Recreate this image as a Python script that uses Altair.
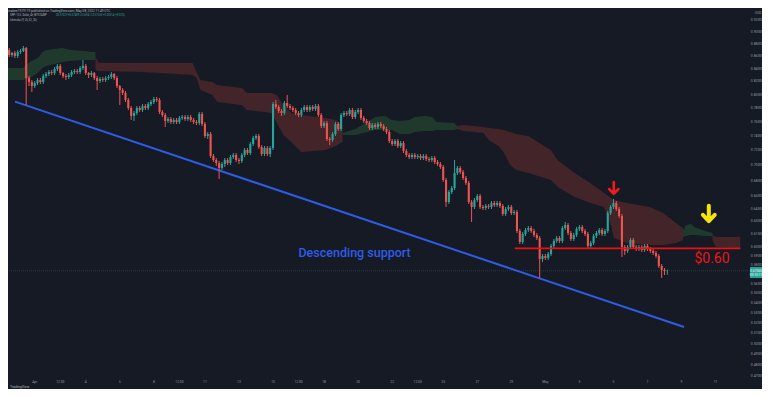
import altair as alt
import pandas as pd

# ---------------- data (XRP / USD, 4h candles, Bitstamp) ----------------
# time is given in hours from 1 Apr 2022 00:00 UTC; first candle opens 30 Mar 12:00
first_hour = -36
step_hours = 4
first_open = 0.8701

closes = [
    .8620, .8653, .8604, .8669, .8685, .8734, .8253, .8191, .8130, .8176,
    .8222, .8191, .8284, .8316, .8347, .8332, .8395, .8442, .8332, .8284,
    .8269, .8300, .8347, .8363, .8347, .8411, .8442, .8332, .8300, .8332,
    .8253, .8207, .8238, .8222, .8253, .8269, .8316, .8253, .8130, .8069,
    .8023, .7918, .7799, .7683, .7726, .7799, .7770, .7828, .7799, .7858,
    .7888, .7933, .7918, .7741, .7697, .7611, .7639, .7596, .7625, .7596,
    .7654, .7668, .7639, .7668, .7625, .7596, .7582, .7712, .7567, .7398,
    .7426, .7124, .7070, .7030, .6964, .7017, .7070, .7030, .7110, .7137,
    .7070, .7057, .7137, .7205, .7164, .7287, .7370, .7398, .7246, .7151,
    .7232, .7151, .7232, .7858, .7814, .7755, .7726, .7873, .7828, .7799,
    .7770, .7726, .7697, .7770, .7814, .7770, .7814, .7785, .7828, .7697,
    .7539, .7582, .7356, .7342, .7426, .7567, .7496, .7697, .7726, .7712,
    .7770, .7668, .7741, .7770, .7654, .7611, .7582, .7510, .7553, .7525,
    .7567, .7539, .7496, .7454, .7328, .7287, .7328, .7259, .7301, .7191,
    .7137, .7110, .7137, .7110, .7124, .7097, .7124, .7083, .7070, .7097,
    .7044, .7017, .6978, .6809, .6532, .6656, .6707, .6899, .6964, .6912,
    .6835, .6771, .6532, .6471, .6556, .6606, .6471, .6458, .6483, .6471,
    .6519, .6495, .6519, .6483, .6385, .6446, .6471, .6397, .6410, .6184,
    .6057, .6149, .6196, .6219, .6184, .6137, .6103, .5866, .5899, .5877,
    .5921, .6012, .6069, .6103, .6069, .6219, .6254, .6161, .6091, .6137,
    .6208, .6231, .6184, .6149, .6012, .6046, .6126, .6161, .6196, .6149,
    .6184, .6397, .6471, .6519, .6446, .6361, .6000, .5955, .6000, .6080,
    .6000, .5978, .6000, .5966, .6012, .5978, .5955, .5933, .5899, .5789,
    .5745, .57337, .57365,
]
highs = [
    .8734, .8669, .8685, .8701, .8718, .8767, .8751, .8284, .8222, .8207,
    .8253, .8253, .8316, .8347, .8379, .8379, .8426, .8474, .8474, .8347,
    .8316, .8332, .8379, .8395, .8395, .8442, .8539, .8474, .8347, .8363,
    .8347, .8284, .8269, .8269, .8284, .8300, .8347, .8332, .8284, .8145,
    .8099, .8054, .7948, .7828, .7755, .7828, .7828, .7858, .7858, .7888,
    .7918, .7963, .7963, .7948, .7770, .7726, .7668, .7668, .7654, .7654,
    .7683, .7697, .7697, .7697, .7697, .7654, .7625, .7741, .7741, .7596,
    .7454, .7454, .7151, .7097, .7057, .7044, .7097, .7097, .7137, .7164,
    .7164, .7097, .7164, .7232, .7232, .7314, .7398, .7426, .7426, .7273,
    .7259, .7259, .7259, .7888, .7918, .7843, .7785, .7903, .7993, .7858,
    .7828, .7799, .7755, .7799, .7843, .7843, .7843, .7843, .7858, .7858,
    .7726, .7611, .7611, .7384, .7454, .7596, .7596, .7726, .7755, .7755,
    .7799, .7799, .7770, .7799, .7799, .7683, .7639, .7611, .7582, .7582,
    .7596, .7596, .7567, .7525, .7482, .7356, .7356, .7356, .7328, .7328,
    .7219, .7164, .7164, .7164, .7151, .7151, .7151, .7151, .7110, .7124,
    .7124, .7070, .7044, .7004, .6835, .6681, .6732, .7070, .6991, .6991,
    .6938, .6860, .6796, .6556, .6581, .6631, .6631, .6495, .6507, .6507,
    .6544, .6544, .6544, .6544, .6507, .6471, .6495, .6495, .6434, .6434,
    .6208, .6172, .6219, .6242, .6242, .6208, .6161, .6126, .5921, .5921,
    .5944, .6034, .6091, .6126, .6126, .6242, .6290, .6278, .6184, .6161,
    .6231, .6254, .6254, .6208, .6172, .6069, .6149, .6184, .6219, .6219,
    .6208, .6422, .6495, .6569, .6544, .6471, .6385, .6023, .6023, .6103,
    .6103, .6023, .6023, .6023, .6034, .6034, .6000, .5978, .5955, .5921,
    .5811, .5767, .57489,
]
lows = [
    .8588, .8588, .8571, .8571, .8636, .8669, .7843, .8130, .8039, .8099,
    .8145, .8160, .8160, .8253, .8284, .8300, .8300, .8363, .8300, .8253,
    .8222, .8238, .8269, .8316, .8316, .8316, .8379, .8300, .8253, .8269,
    .8222, .8069, .8176, .8191, .8191, .8222, .8238, .8222, .8099, .7843,
    .7993, .7888, .7770, .7625, .7611, .7697, .7741, .7741, .7770, .7770,
    .7828, .7858, .7888, .7712, .7668, .7525, .7582, .7567, .7567, .7567,
    .7567, .7625, .7611, .7611, .7596, .7567, .7553, .7553, .7539, .7370,
    .7356, .7097, .7044, .6991, .6822, .6938, .6978, .7004, .7004, .7083,
    .7044, .7017, .7030, .7110, .7137, .7137, .7259, .7342, .7219, .7124,
    .7124, .7124, .7110, .7205, .7785, .7726, .7683, .7697, .7799, .7770,
    .7741, .7697, .7668, .7668, .7741, .7741, .7741, .7755, .7755, .7668,
    .7510, .7510, .7328, .7273, .7314, .7398, .7468, .7468, .7668, .7683,
    .7683, .7639, .7639, .7712, .7625, .7582, .7553, .7482, .7482, .7496,
    .7496, .7510, .7468, .7426, .7301, .7259, .7259, .7232, .7232, .7164,
    .7110, .7083, .7083, .7083, .7083, .7070, .7070, .7057, .7044, .7044,
    .7017, .6991, .6951, .6784, .6471, .6507, .6631, .6681, .6873, .6886,
    .6809, .6745, .6507, .6290, .6446, .6532, .6446, .6434, .6434, .6446,
    .6446, .6471, .6471, .6458, .6361, .6361, .6422, .6373, .6373, .6161,
    .6034, .6034, .6126, .6172, .6161, .6114, .6080, .5659, .5833, .5855,
    .5855, .5899, .5989, .6046, .6046, .6046, .6196, .6137, .6069, .6069,
    .6114, .6184, .6161, .6126, .5989, .5989, .6023, .6103, .6137, .6126,
    .6126, .6161, .6373, .6446, .6422, .6338, .5888, .5910, .5933, .5978,
    .5978, .5955, .5955, .5944, .5944, .5955, .5933, .5910, .5877, .5767,
    .5659, .5691, .56941,
]

# Ichimoku cloud outline (hour, upper edge, lower edge), per segment
cloud_seg = [1]*12 + [2]*18 + [3]*14 + [4]*21 + [5]*6 + [6]*3
cloud_trend = (["bull"]*12 + ["bear"]*18 + ["bull"]*14 + ["bear"]*21
               + ["bull"]*6 + ["bear"]*3)
cloud_hour = [
    -41.7, -16.7, -7.0, 4.2, 11.1, 16.7, 27.8, 39.0, 50.1, 69.6, 80.7, 85.6,
    85.6, 90.4, 153.0, 222.6, 228.2, 233.7, 250.4, 257.4, 292.2, 299.1, 333.9,
    340.9, 350.6, 361.7, 375.7, 410.4, 424.3, 434.1,
    434.1, 452.2, 468.9, 480.0, 493.9, 503.7, 514.8, 528.7, 535.7, 549.6,
    560.7, 566.3, 591.3, 595.5,
    595.5, 605.2, 633.0, 640.0, 653.9, 660.9, 670.6, 678.9, 695.7, 727.7,
    737.4, 761.1, 783.3, 802.8, 812.5, 816.7, 834.8, 866.8, 886.3, 904.3, 914.1,
    914.1, 918.3, 925.2, 932.2, 946.1, 955.8,
    955.8, 960.0, 994.8,
]
cloud_upper = [
    .8411, .8411, .8507, .8571, .8669, .8701, .8718, .8734, .8701, .8685, .8669, .8669,
    .8588, .8490, .8490, .8490, .8347, .8222, .8191, .8145, .8099, .8023, .8023,
    .7993, .7843, .7726, .7697, .7654, .7625, .7553,
    .7440, .7496, .7596, .7668, .7683, .7625, .7611, .7625, .7668, .7683,
    .7668, .7596, .7582, .7539,
    .7539, .7553, .7525, .7510, .7496, .7482, .7454, .7426, .7398, .7205,
    .7070, .6899, .6771, .6644, .6581, .6556, .6519, .6471, .6397, .6278, .6219,
    .6196, .6254, .6266, .6219, .6184, .6161,
    .6137, .6114, .6114,
]
cloud_lower = [
    .8222, .8222, .8253, .8332, .8411, .8442, .8474, .8507, .8523, .8539, .8539, .8539,
    .8379, .8363, .8347, .8300, .8253, .8069, .7993, .7888, .7843, .7770, .7726,
    .7596, .7412, .7314, .7178, .7205, .7259, .7314,
    .7412, .7412, .7454, .7482, .7482, .7482, .7426, .7426, .7454, .7468,
    .7468, .7482, .7482, .7496,
    .7496, .7468, .7440, .7342, .7259, .7178, .7004, .6938, .6899, .6809,
    .6720, .6594, .6519, .6471, .6254, .6103, .6046, .6023, .6023, .6046, .6080,
    .6114, .6126, .6137, .6137, .6126, .6126,
    .6080, .6000, .5989,
]

# descending support line (two anchor points)
support_hour = [-27.8, 915.5]
support_price = [0.7893, 0.5159]

# horizontal resistance at $0.60
level_hour = [677.0, 995.0]
level_price = [0.5985, 0.5985]

# arrows (hour, price)
arrow_hour = [816.5, 950.5]
arrow_price = [0.6705, 0.6390]
arrow_kind = ["red", "yellow"]

# price-scale labels
price_ticks = [0.92, 0.90, 0.88, 0.86, 0.84, 0.82, 0.80, 0.78, 0.76, 0.74, 0.72,
               0.70, 0.68, 0.66, 0.645, 0.63, 0.615, 0.60, 0.59, 0.58, 0.56,
               0.55, 0.54, 0.53, 0.52, 0.51, 0.50, 0.49, 0.48, 0.47]
# time-scale labels
time_tick_hours = [0, 36, 72, 120, 168, 204, 240, 288, 336, 372, 408, 456, 504,
                   540, 576, 624, 672, 720, 768, 816, 864, 912, 960]
time_tick_labels = ["Apr", "12:00", "4", "6", "8", "12:00", "11", "13", "15",
                    "12:00", "18", "20", "22", "12:00", "25", "27", "29", "May",
                    "3", "5", "7", "9", "11"]
last_price = 0.57365

# ---------------- tables ----------------
n = len(closes)
opens = [first_open] + closes[:-1]
candles = pd.DataFrame({
    "hour": [first_hour + step_hours * i for i in range(n)],
    "open": opens, "close": closes, "high": highs, "low": lows,
})
candles["dir"] = ["up" if c >= o else "down" for o, c in zip(opens, closes)]

cloud = pd.DataFrame({"hour": cloud_hour, "upper": cloud_upper,
                      "lower": cloud_lower, "seg": cloud_seg, "trend": cloud_trend})
support = pd.DataFrame({"hour": support_hour, "price": support_price})
level = pd.DataFrame({"hour": level_hour, "price": level_price})
arrows = pd.DataFrame({"hour": arrow_hour, "price": arrow_price, "kind": arrow_kind})
pticks = pd.DataFrame({"price": price_ticks,
                       "label": [f"{p:.5f}" for p in price_ticks]})
tticks = pd.DataFrame({"hour": time_tick_hours, "label": time_tick_labels})

W, H = 754, 381
BG = "#161a25"
X = alt.Scale(domain=[-30.61, 1018.43], nice=False, zero=False)
Y = alt.Scale(type="log", domain=[0.45896, 0.9419], nice=False, zero=False)
dir_color = alt.Color("dir:N", scale=alt.Scale(domain=["up", "down"],
                      range=["#26a69a", "#ef5350"]), legend=None)


def xh(field="hour"):
    return alt.X(f"{field}:Q", scale=X, axis=None)


def yp(field):
    return alt.Y(f"{field}:Q", scale=Y, axis=None)


cloud_layer = alt.Chart(cloud).mark_area(interpolate="linear", opacity=1).encode(
    x=xh(), y=yp("upper"), y2="lower:Q", detail="seg:N",
    color=alt.Color("trend:N", scale=alt.Scale(domain=["bull", "bear"],
                    range=["#1f3a2c", "#422429"]), legend=None),
)

price_line = alt.Chart(pd.DataFrame({"price": [last_price]})).mark_rule(
    color="#2a3a44", strokeWidth=1, strokeDash=[1, 1]).encode(y=yp("price"))

support_layer = alt.Chart(support).mark_line(color="#2e5ce6", strokeWidth=2).encode(
    x=xh(), y=yp("price"))

wicks = alt.Chart(candles).mark_rule(strokeWidth=1).encode(
    x=xh(), y=yp("low"), y2="high:Q", color=dir_color)
bodies = alt.Chart(candles).mark_bar(size=2.1).encode(
    x=xh(), y=yp("open"), y2="close:Q", color=dir_color)

level_layer = alt.Chart(level).mark_line(color="#f00f0f", strokeWidth=1.8).encode(
    x=xh(), y=yp("price"))

arrow_path = "M0,-1 L0,0.9 M-0.75,0.15 L0,0.95 L0.75,0.15"
red_arrow = alt.Chart(arrows[arrows.kind == "red"]).mark_point(
    shape=arrow_path, filled=False, size=150, strokeWidth=2.6, color="#f51a1a",
    strokeCap="round", strokeJoin="round", opacity=1).encode(x=xh(), y=yp("price"))
yellow_arrow = alt.Chart(arrows[arrows.kind == "yellow"]).mark_point(
    shape=arrow_path, filled=False, size=250, strokeWidth=4, color="#f5e50a",
    strokeCap="round", strokeJoin="round", opacity=1).encode(x=xh(), y=yp("price"))

ann = pd.DataFrame({"hour": [451.0, 955.0], "price": [0.5930, 0.5865],
                    "label": ["Descending support", "$0.60"],
                    "kind": ["support", "level"]})
support_text = alt.Chart(ann[ann.kind == "support"]).mark_text(
    font="Roboto", fontSize=12.5, fontWeight=500, color="#2e5ce6", align="center",
    baseline="middle").encode(x=xh(), y=yp("price"), text="label:N")
level_text = alt.Chart(ann[ann.kind == "level"]).mark_text(
    font="Roboto", fontSize=14, color="#f01414", align="center", baseline="middle").encode(
    x=xh(), y=yp("price"), text="label:N")

# price scale panel
price_labels = alt.Chart(pticks).mark_text(
    font="Roboto", fontSize=3.4, color="#9598a1", align="center", baseline="middle").encode(
    x=alt.value(749), y=yp("price"), text="label:N")
usd_label = alt.Chart(pd.DataFrame({"t": ["USD"]})).mark_text(
    font="Roboto", fontSize=3.4, color="#9598a1", align="center").encode(
    x=alt.value(750), y=alt.value(5), text="t:N")
price_box = alt.Chart(pd.DataFrame({"p": [last_price]})).mark_rect(color="#26a69a").encode(
    x=alt.value(742), x2=alt.value(754), y=alt.value(259), y2=alt.value(270))
price_box_text = alt.Chart(pd.DataFrame({"t": ["0.57365", "00:10:11"], "yy": [262.5, 267]})).mark_text(
    font="Roboto", fontSize=3.2, color="#ffffff", align="center", baseline="middle").encode(
    x=alt.value(748), y=alt.Y("yy:Q", scale=None), text="t:N")

# time scale labels
time_labels = alt.Chart(tticks).mark_text(
    font="Roboto", fontSize=3.3, color="#9598a1", align="center", baseline="middle").encode(
    x=xh(), y=alt.value(374), text="label:N")

# header
hdr = pd.DataFrame({
    "t": ["mabee1919119 published on TradingView.com, May 08, 2022 11:49 UTC",
          "XRP / U.S. Dollar, 4h, BITSTAMP",
          "O0.57337 H0.57489 L0.56941 C0.57365 +0.00014 (+0.02%)",
          "Ichimoku (9, 26, 52, 26)"],
    "xx": [0, 2, 48, 2], "yy": [2.5, 7.5, 7.5, 12.0],
    "fs": [3.2, 2.6, 2.6, 2.6],
    "c": ["a", "b", "g", "b"],
})
header = alt.Chart(hdr).mark_text(font="Roboto", align="left",
                                  baseline="middle").encode(
    x=alt.X("xx:Q", scale=None), y=alt.Y("yy:Q", scale=None), text="t:N",
    size=alt.Size("fs:Q", scale=None, legend=None),
    color=alt.Color("c:N", scale=alt.Scale(domain=["a", "b", "g"],
                    range=["#b2b5be", "#b2b5be", "#26a69a"]), legend=None))

footer = alt.Chart(pd.DataFrame({"t": ["TradingView"]})).mark_text(
    font="Roboto", fontSize=3.5, color="#b2b5be", align="left", baseline="bottom").encode(
    x=alt.value(2), y=alt.value(381), text="t:N")

chart = alt.layer(
    cloud_layer, price_line, support_layer, wicks, bodies, level_layer,
    red_arrow, yellow_arrow, support_text, level_text,
    price_labels, usd_label, price_box, price_box_text, time_labels, header, footer,
).resolve_scale(color="independent").properties(
    width=W, height=H, padding=0, background=BG,
    autosize=alt.AutoSizeParams(type="none"),
).configure_view(stroke=None)

chart.save("out.html", embed_options={"renderer": "svg", "actions": False})
